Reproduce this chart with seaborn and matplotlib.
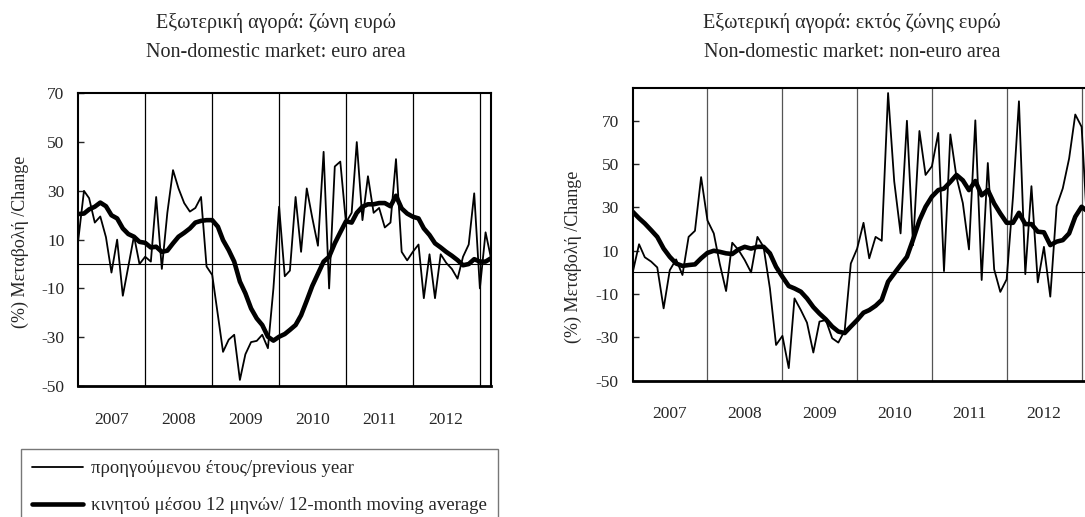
import numpy as np
import pandas as pd
import seaborn as sns
import matplotlib.pyplot as plt

# monthly observations, Jan 2007 - Mar 2013
months = pd.date_range('2007-01-01', periods=75, freq='MS')
years = [2007, 2008, 2009, 2010, 2011, 2012]

# euro area: change on previous year and 12-month moving average
euro_yoy = [10, 30, 27, 17, 19.5, 11, -3.5, 10, -13, -1, 11.5, 0,
            3, 1, 27.5, -2, 21, 38.5, 31, 25, 21.5, 23, 27.5, -1,
            -4.5, -21, -36, -31, -29, -47.5, -37, -32, -31.5, -29, -34.5, -10,
            23.5, -5, -2.7, 27.5, 5, 31, 19, 7.5, 46, -10, 40, 42,
            17, 21, 50, 18, 36, 21, 23, 15, 17, 43, 5, 1.5,
            5, 8, -14, 4, -14, 4, 0.5, -2, -6, 3, 8, 29,
            -10, 13, 3]
euro_ma = [20.5, 20.7, 22.4, 23.5, 25.2, 23.7, 20, 18.7, 14.6, 12.3, 11.2, 9.1,
           8.7, 6.8, 7.1, 5, 5.5, 8.5, 11.2, 12.8, 14.6, 17, 17.7, 18,
           18, 15.3, 9.8, 5.7, 1, -7.2, -12, -18.2, -22.3, -25, -29.8, -31.4,
           -29.8, -28.7, -27, -25, -21, -15, -9, -4, 1, 3, 8.5, 13,
           17.5, 17, 21, 23.5, 24.5, 24.5, 25, 25, 23.7, 28, 22.8, 20.7,
           19.4, 18.7, 14.6, 11.9, 8.5, 6.8, 5, 3.4, 1.6, -0.5, 0, 2,
           1, 1, 2.3]

# non-euro area
noneuro_yoy = [0, 13, 7, 5, 2.3, -16.6, 1, 6, -1.2, 16.4, 19.2, 44,
               24, 18, 4, -8.6, 13.7, 10.3, 5.7, 0, 16.4, 11.8, -7.4, -33.5,
               -29.3, -44.2, -12, -17.4, -23.2, -37, -22.7, -22, -30.4, -32.4, -26.9, 4.1,
               11, 22.9, 6.5, 16.4, 14.6, 82.8, 42, 18, 70, 12.6, 65.3, 45,
               49, 64.4, 0.6, 63.7, 44, 32, 10.6, 70.2, -3.5, 50.5, 1.4, -9,
               -3.2, 35, 79, -0.8, 39.8, -4.6, 11.8, -11.2, 30.6, 38.8, 52.6, 72.9,
               67.2, 15, 8]
noneuro_ma = [28, 25, 22.6, 19.5, 16.4, 11, 7.2, 4.1, 3, 3.4, 3.7, 6.5,
              9, 10, 9.5, 8.8, 8.5, 10.6, 11.8, 11, 11.8, 11.8, 8.8, 2.6,
              -2, -6.3, -7.4, -8.9, -12, -16, -19, -21.7, -25, -27.3, -28, -25,
              -22, -18.6, -17.4, -15.4, -12.7, -4.3, -0.5, 3.4, 7.2, 15.2, 24, 30.3,
              35, 38, 38.7, 41.8, 45, 42.5, 38, 42.2, 35.6, 38, 31.8, 27.2,
              22.9, 22.9, 27.5, 22.3, 22.3, 18.8, 18.5, 12.6, 14.2, 14.9, 18, 25.7,
              30.3, 28, 26]

titles_gr = ['Εξωτερική αγορά: ζώνη ευρώ', 'Εξωτερική αγορά: εκτός ζώνης ευρώ']
titles_en = ['Non-domestic market: euro area', 'Non-domestic market: non-euro area']
ylabel = '(%) Μεταβολή /Change'
legend_labels = ['προηγούμενου έτους/previous year',
                 'κινητού μέσου 12 μηνών/ 12-month moving average']

sns.set_style('white')
plt.rcParams['font.family'] = ['Liberation Serif', 'DejaVu Serif']
plt.rcParams['axes.unicode_minus'] = False

W, H = 1085, 517
fig = plt.figure(figsize=(W / 100, H / 100), dpi=100)
ax1 = fig.add_axes([78.3 / W, 1 - 386 / H, 412.4 / W, 292.7 / H])
ax2 = fig.add_axes([632.7 / W, 1 - 380.7 / H, 461 / W, 292.4 / H])


def draw_panel(ax, yoy, ma, ylim, grid_color):
    df = pd.DataFrame({'month': months, 'yoy': yoy, 'ma': ma})
    sns.lineplot(data=df, x='month', y='yoy', ax=ax, color='black', lw=1.3)
    sns.lineplot(data=df, x='month', y='ma', ax=ax, color='black', lw=3.3)
    for y in years[1:] + [2013]:
        ax.axvline(pd.Timestamp(f'{y}-01-01'), color=grid_color, lw=0.9, zorder=0)
    ax.axhline(0, color='black', lw=0.8, zorder=0)
    ax.set_xlim(months[0], months[-1])
    ax.set_ylim(*ylim)
    ax.set_yticks(range(-50, 71, 20))
    ax.set_xticks([pd.Timestamp(f'{y}-07-01') for y in years])
    ax.set_xticklabels([str(y) for y in years])
    ax.tick_params(axis='x', length=0, pad=18.5, labelsize=12.5)
    ax.tick_params(axis='y', direction='in', length=4, width=1, pad=10,
                   labelsize=12.5, left=True)
    ax.set_xlabel('')
    ax.set_ylabel('')
    for s in ax.spines.values():
        s.set_color('black')
        s.set_linewidth(1.5)
    ax.spines['bottom'].set_linewidth(2)


draw_panel(ax1, euro_yoy, euro_ma, (-50, 70), 'black')
draw_panel(ax2, noneuro_yoy, noneuro_ma, (-50, 85), '#555555')

# titles
for cx, gr, en in zip([276, 852], titles_gr, titles_en):
    fig.text(cx / W, 1 - 28.3 / H, gr, ha='center', va='baseline', fontsize=14.5)
    fig.text(cx / W, 1 - 56.7 / H, en, ha='center', va='baseline', fontsize=14.5)

# y labels
fig.text(20.7 / W, 1 - 242 / H, ylabel, rotation=90, ha='center', va='center', fontsize=13)
fig.text(573 / W, 1 - 257 / H, ylabel, rotation=90, ha='center', va='center', fontsize=13)

# legend
h1, = ax1.plot([], [], color='black', lw=1.3)
h2, = ax1.plot([], [], color='black', lw=3.3)
leg = fig.legend([h1, h2], legend_labels, loc='upper left',
                 bbox_to_anchor=(21 / W, 1 - 449 / H), borderaxespad=0,
                 fontsize=13.5, frameon=True, fancybox=False, borderpad=0.6,
                 labelspacing=1.05, handlelength=2.7, handletextpad=0.45)
leg.get_frame().set_edgecolor('#555555')
leg.get_frame().set_linewidth(1.0)

fig.savefig('out.png', dpi=100)
